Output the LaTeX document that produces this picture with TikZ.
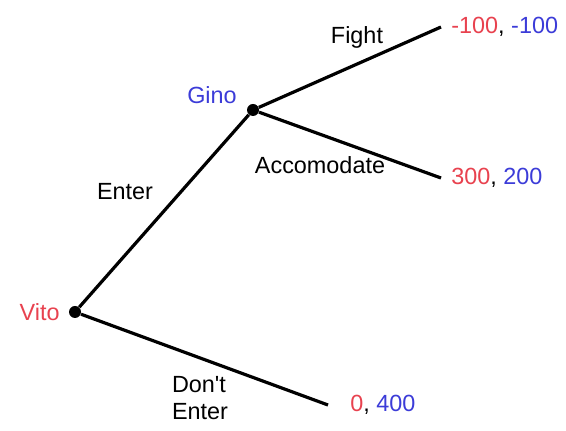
\documentclass[tikz,border=0pt]{standalone}
\usepackage{fontspec}
\setmainfont{Liberation Sans}
\usetikzlibrary{positioning}
\definecolor{vitored}{HTML}{E8424F}
\definecolor{ginoblue}{HTML}{3C3CD8}

\begin{document}
\begin{tikzpicture}[x=0.5pt, y=-0.5pt,
      every node/.style={font=\fontsize{11.7}{13.5}\selectfont},
      dot/.style={circle, fill=black, inner sep=0pt, minimum size=6pt},
      branch/.style={line width=1.6pt, black},
      payoff/.style={anchor=west, inner sep=0pt}]
    \useasboundingbox (0,0) rectangle (566,431);
    % decision nodes
    \node[dot] (vito) at (75,312) {};
    \node[dot] (gino) at (253,110) {};
    \node[left=1pt of vito, text=vitored] (vitolabel) {Vito};
    \node[text=ginoblue] (ginolabel) at (212,95) {Gino};
    % ends of the branches
    \coordinate (fightend) at (441,27);
    \coordinate (accend) at (441,178);
    \coordinate (stayend) at (328,405);
    \draw[branch] (vito) -- (gino);
    \draw[branch] (gino) -- (fightend);
    \draw[branch] (gino) -- (accend);
    \draw[branch] (vito) -- (stayend);
    % actions
    \node (enter) at (125,192) {Enter};
    \node (fight) at (357,37) {Fight};
    \node (acc) at (320,165) {Accomodate};
    \node[align=left] (stay) at (200,398) {Don\textquotesingle t\\Enter};
    % payoffs
    \node[payoff, right=5pt of fightend] (payfight) {\textcolor{vitored}{-100}, \textcolor{ginoblue}{-100}};
    \node[payoff, right=5pt of accend] (payacc) {\textcolor{vitored}{300}, \textcolor{ginoblue}{200}};
    \node[payoff, right=11pt of stayend] (paystay) {\textcolor{vitored}{0}, \textcolor{ginoblue}{400}};
  \end{tikzpicture}
\end{document}
